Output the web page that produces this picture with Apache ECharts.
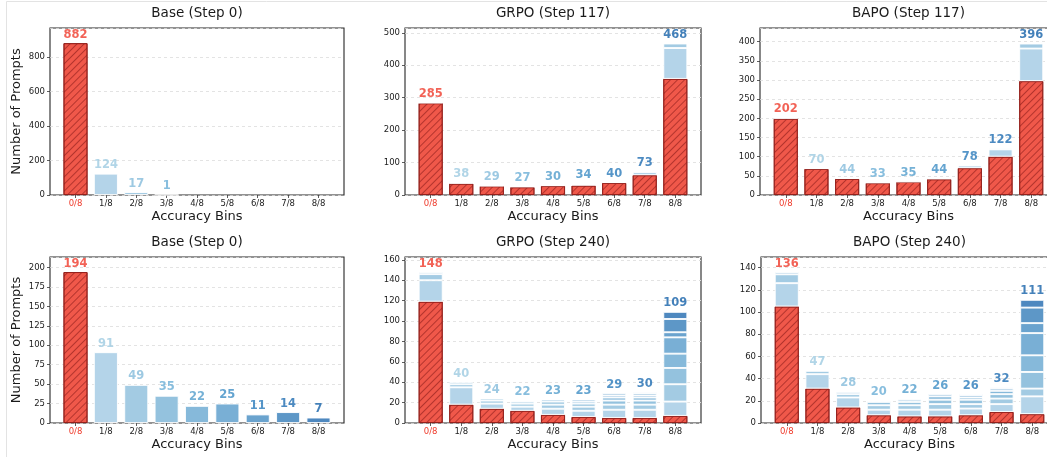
<!DOCTYPE html>
<html><head><meta charset="utf-8">
<script src="https://cdn.jsdelivr.net/npm/echarts@6/dist/echarts.min.js"></script>
<style>html,body{margin:0;padding:0;background:#fff}#c{width:1047px;height:457px}</style>
</head><body><div id="c"></div>
<script>
const bins = ['0/8','1/8','2/8','3/8','4/8','5/8','6/8','7/8','8/8'];
const panelTitles = ['Base (Step 0)','GRPO (Step 117)','BAPO (Step 117)','Base (Step 0)','GRPO (Step 240)','BAPO (Step 240)'];

// Top row: base distribution and transitions (by origin bin of step 0)
const baseTop = [882,124,17,1,0,0,0,0,0];
const grpo117_o0 = [283,35,27,24,28,29,37,61,358];
const grpo117_o1 = [2,3,2,3,2,4,3,10,95];
const grpo117_o2 = [0,0,0,0,0,1,0,2,14];
const grpo117_o3 = [0,0,0,0,0,0,0,0,1];
const bapo117_o0 = [199,68,42,31,34,41,70,100,297];
const bapo117_o1 = [3,2,2,2,1,3,7,19,85];
const bapo117_o2 = [0,0,0,0,0,0,1,3,13];
const bapo117_o3 = [0,0,0,0,0,0,0,0,1];

// Bottom row
const baseBottom = [194,91,49,35,22,25,11,14,7];
const grpo240_o0 = [119,18,14,12,8,6,5,5,7];
const grpo240_o1 = [21,17,5,4,6,6,8,8,14];
const grpo240_o2 = [6,3,3,3,4,4,5,5,17];
const grpo240_o3 = [2,2,2,2,3,3,4,4,16];
const grpo240_o4 = [0,0,0,1,2,2,3,3,14];
const grpo240_o5 = [0,0,0,0,0,2,2,2,16];
const grpo240_o6 = [0,0,0,0,0,0,2,2,5];
const grpo240_o7 = [0,0,0,0,0,0,0,1,13];
const grpo240_o8 = [0,0,0,0,0,0,0,0,7];
const bapo240_o0 = [105,31,14,7,6,6,7,10,8];
const bapo240_o1 = [21,13,9,5,6,6,6,7,16];
const bapo240_o2 = [8,3,3,4,4,5,4,5,7];
const bapo240_o3 = [2,0,2,3,3,4,4,4,15];
const bapo240_o4 = [0,0,0,1,2,3,2,3,15];
const bapo240_o5 = [0,0,0,0,1,2,2,2,20];
const bapo240_o6 = [0,0,0,0,0,0,1,1,9];
const bapo240_o7 = [0,0,0,0,0,0,0,0,14];
const bapo240_o8 = [0,0,0,0,0,0,0,0,7];

const yTickSteps = [200,100,50,25,20,20];

function fromBase(arr){ return arr.map((_,k)=>arr.map((v,i)=> i===k ? v : 0)); }
const panelOrigins = [
  fromBase(baseTop),
  [grpo117_o0,grpo117_o1,grpo117_o2,grpo117_o3],
  [bapo117_o0,bapo117_o1,bapo117_o2,bapo117_o3],
  fromBase(baseBottom),
  [grpo240_o0,grpo240_o1,grpo240_o2,grpo240_o3,grpo240_o4,grpo240_o5,grpo240_o6,grpo240_o7,grpo240_o8],
  [bapo240_o0,bapo240_o1,bapo240_o2,bapo240_o3,bapo240_o4,bapo240_o5,bapo240_o6,bapo240_o7,bapo240_o8]
];

// layout
const gridBoxes = [
  [50,28,294,167],[405,28,296,167],[760,28,297,167],
  [50,257,294,166],[405,257,296,166],[761,257,297,166]
];
const originColors = ['#f0584a','#b4d4e9','#a3cbe3','#94c2de','#86b9da','#79afd5','#6aa3ce','#5d97c7','#4e88bf'];
const labelColors = ['#ef3b2c','#9ecae1','#84bcdb','#6aaed6','#529dcc','#3d8dc4','#2b7bba','#1f6db1','#1561a9'];
const FONT = 'DejaVu Sans';

const grids = [], xAxes = [], yAxes = [], series = [], graphics = [];
gridBoxes.forEach((b,p)=>{
  grids.push({left:b[0], top:b[1], width:b[2], height:b[3], show:true, borderColor:'#262626', borderWidth:1.1, backgroundColor:'transparent', containLabel:false, outerBoundsMode:'none'});
  const origins = panelOrigins[p];
  const totals = bins.map((_,i)=>origins.reduce((s,o)=>s+o[i],0));
  const ymax = Math.max(...totals)*1.1;
  xAxes.push({
    type:'value', gridIndex:p, min:-0.84, max:8.84,
    axisLine:{show:false, onZero:false}, splitLine:{show:false},
    axisTick:{show:true, length:3, customValues:[0,1,2,3,4,5,6,7,8], lineStyle:{color:'#333', width:0.8}},
    axisLabel:{customValues:[0,1,2,3,4,5,6,7,8], margin:4, fontFamily:FONT, fontSize:8.5, color:'#222',
      formatter:v=> v===0 ? '{r|'+bins[0]+'}' : bins[v],
      rich:{r:{color:'#ef3b2c', fontFamily:FONT, fontSize:8.5}}},
    name:'Accuracy Bins', nameLocation:'middle', nameGap:15,
    nameTextStyle:{fontFamily:FONT, fontSize:13, color:'#1a1a1a'}
  });
  const ya = {
    type:'value', gridIndex:p, min:0, max:ymax, interval:yTickSteps[p],
    axisLine:{show:false, onZero:false},
    axisTick:{show:true, length:3, lineStyle:{color:'#333', width:0.8}},
    axisLabel:{showMaxLabel:false, margin:5, fontFamily:FONT, fontSize:8.5, color:'#222'},
    splitLine:{show:true, lineStyle:{type:[3,3], color:'#dcdcdc', width:0.8}}
  };
  if (p===0 || p===3) {
    ya.name = 'Number of Prompts'; ya.nameLocation='middle'; ya.nameGap=27;
    ya.nameTextStyle = {fontFamily:FONT, fontSize:13, color:'#1a1a1a'};
  }
  yAxes.push(ya);
  origins.forEach((o,k)=>{
    series.push({
      type:'bar', xAxisIndex:p, yAxisIndex:p, stack:'s'+p, barWidth:24, silent:true,
      // value first so the library stacks the y dimension; bin index second
      encode:{x:1, y:0},
      data: o.map((v,i)=>[v>0 ? v : '-', i]),
      itemStyle: k===0 ? {
        color: originColors[0], borderColor:'#94201c', borderWidth:0.9,
        decal:{symbol:'rect', symbolSize:1, dashArrayX:[1,0], dashArrayY:[0.8,3.6], rotation:-Math.PI/4, color:'rgba(120,15,15,0.5)'}
      } : {color: originColors[k], borderColor:'#ffffff', borderWidth:0.9}
    });
  });
  series.push({
    type:'scatter', xAxisIndex:p, yAxisIndex:p, symbolSize:1, silent:true, z:10,
    itemStyle:{color:'transparent'},
    data: totals.map((t,i)=>({value:[i,t], label:{color:labelColors[i]}})).filter(d=>d.value[1]>0),
    label:{show:true, position:'top', distance:2, fontFamily:FONT, fontWeight:'bold', fontSize:11.5,
      formatter:d=>String(d.value[1])}
  });
  graphics.push({type:'text', x:b[0]+b[2]/2, y:b[1]-15, silent:true,
    style:{text:panelTitles[p], textAlign:'center', textVerticalAlign:'middle', fontFamily:FONT, fontSize:13.5, fill:'#1a1a1a'}});
});
graphics.push({type:'line', silent:true, shape:{x1:6.5,y1:1.5,x2:1047,y2:1.5}, style:{stroke:'#e3e3e3', lineWidth:1}});
graphics.push({type:'line', silent:true, shape:{x1:6.5,y1:1.5,x2:6.5,y2:457}, style:{stroke:'#e3e3e3', lineWidth:1}});

const chart = echarts.init(document.getElementById('c'), null, {renderer:'canvas'});
chart.setOption({
  animation:false, backgroundColor:'#fff',
  grid:grids, xAxis:xAxes, yAxis:yAxes, series:series, graphic:graphics
});
</script></body></html>
